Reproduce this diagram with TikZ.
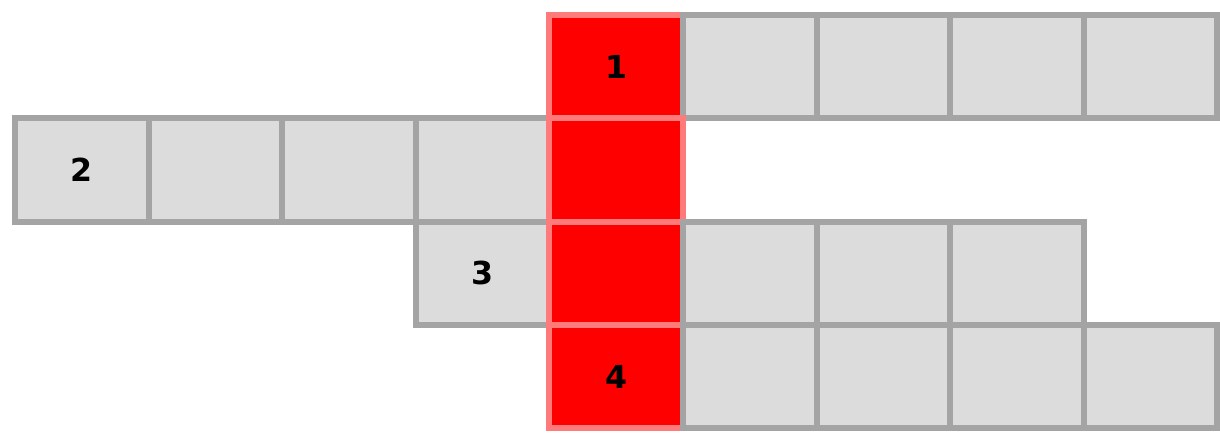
\documentclass[tikz,border=0pt]{standalone}
\usepackage{fontspec}
\setmainfont{DejaVu Sans}
\definecolor{cellfill}{HTML}{DCDCDC}
\definecolor{cellline}{HTML}{A4A4A4}
\definecolor{hotfill}{HTML}{FF0000}
\definecolor{hotline}{HTML}{FF7A7A}
\begin{document}
\begin{tikzpicture}[x=0.01cm,y=-0.01cm,
  cell/.style={rectangle,draw=cellline,fill=cellfill,line width=1.7pt,
    minimum width=1.336cm,minimum height=1.033cm,inner sep=0pt,
    font=\fontsize{9}{9}\selectfont\bfseries},
  hot/.style={cell,draw=hotline,fill=hotfill}]
\useasboundingbox[fill=white] (0,0) rectangle (1220,432);
% row 0
\node[hot]  (r0c4) at (15+4.5*133.6,15+0.5*103.3) {1};
\foreach \c in {5,6,7,8} \node[cell] (r0c\c) at (15+\c*133.6+66.8,15+0.5*103.3) {};
% row 1
\node[cell] (r1c0) at (15+0.5*133.6,15+1.5*103.3) {2};
\foreach \c in {1,2,3} \node[cell] (r1c\c) at (15+\c*133.6+66.8,15+1.5*103.3) {};
\node[hot]  (r1c4) at (15+4.5*133.6,15+1.5*103.3) {};
% row 2
\node[cell] (r2c3) at (15+3.5*133.6,15+2.5*103.3) {3};
\node[hot]  (r2c4) at (15+4.5*133.6,15+2.5*103.3) {};
\foreach \c in {5,6,7} \node[cell] (r2c\c) at (15+\c*133.6+66.8,15+2.5*103.3) {};
% row 3
\node[hot]  (r3c4) at (15+4.5*133.6,15+3.5*103.3) {4};
\foreach \c in {5,6,7,8} \node[cell] (r3c\c) at (15+\c*133.6+66.8,15+3.5*103.3) {};
\end{tikzpicture}
\end{document}
